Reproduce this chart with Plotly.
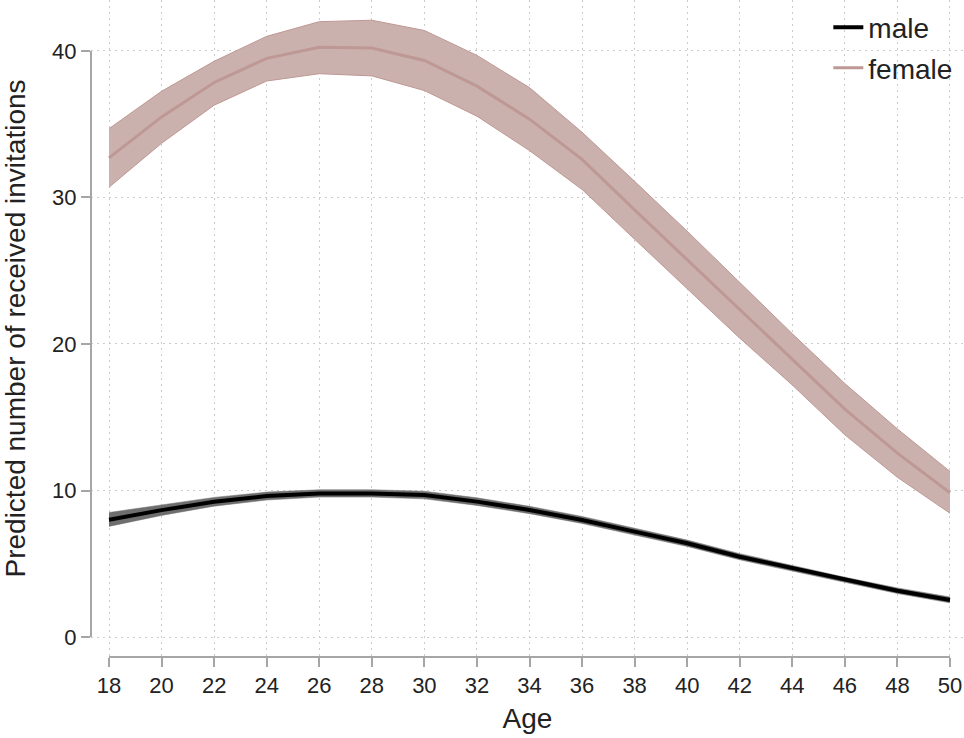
import plotly.graph_objects as go

# Predicted invitations by age, with confidence bands
ages = [18, 20, 22, 24, 26, 28, 30, 32, 34, 36, 38, 40, 42, 44, 46, 48, 50]

male_mean = [8.0, 8.66, 9.23, 9.62, 9.8, 9.8, 9.69, 9.24, 8.67, 7.99, 7.19, 6.4, 5.48, 4.69, 3.89, 3.16, 2.53]
male_lo = [7.55, 8.3, 8.93, 9.35, 9.55, 9.55, 9.43, 8.98, 8.42, 7.75, 6.96, 6.18, 5.27, 4.49, 3.7, 2.97, 2.33]
male_hi = [8.5, 9.02, 9.53, 9.89, 10.05, 10.05, 9.95, 9.5, 8.92, 8.23, 7.42, 6.62, 5.69, 4.89, 4.08, 3.35, 2.73]

female_mean = [32.7, 35.5, 37.85, 39.5, 40.25, 40.2, 39.35, 37.6, 35.35, 32.6, 29.15, 25.75, 22.3, 18.95, 15.55, 12.55, 9.85]
female_lo = [30.7, 33.7, 36.3, 37.95, 38.45, 38.3, 37.3, 35.55, 33.2, 30.55, 27.15, 23.8, 20.4, 17.2, 13.8, 10.9, 8.45]
female_hi = [34.7, 37.25, 39.3, 41.0, 42.0, 42.1, 41.4, 39.7, 37.5, 34.45, 31.1, 27.7, 24.2, 20.7, 17.3, 14.2, 11.3]

x_ticks = list(range(18, 51, 2))
y_ticks = [0, 10, 20, 30, 40]

FONT = "Arial, Liberation Sans, sans-serif"
AXIS_GRAY = "#a6a6a6"
GRID_GRAY = "#cccccc"
TEXT = "#222222"

female_fill = "rgb(203,177,173)"
female_line = "rgb(190,152,148)"
male_fill = "rgb(110,110,110)"

fig = go.Figure()

# female band + line
fig.add_trace(go.Scatter(x=ages, y=female_hi, mode="lines", line=dict(width=1, color=female_line),
                         showlegend=False, hoverinfo="skip"))
fig.add_trace(go.Scatter(x=ages, y=female_lo, mode="lines", line=dict(width=1, color=female_line),
                         fill="tonexty", fillcolor=female_fill, showlegend=False, hoverinfo="skip"))

# male band + line
fig.add_trace(go.Scatter(x=ages, y=male_hi, mode="lines", line=dict(width=0.5, color=male_fill),
                         showlegend=False, hoverinfo="skip"))
fig.add_trace(go.Scatter(x=ages, y=male_lo, mode="lines", line=dict(width=0.5, color=male_fill),
                         fill="tonexty", fillcolor=male_fill, showlegend=False, hoverinfo="skip"))

fig.add_trace(go.Scatter(x=ages, y=male_mean, mode="lines", name="male",
                         line=dict(width=4, color="black"), legendgroup="m"))
fig.add_trace(go.Scatter(x=ages, y=female_mean, mode="lines", name="female",
                         line=dict(width=3, color=female_line), legendgroup="f"))

# Stata-style axis lines spanning only the tick range
fig.add_shape(type="line", xref="x", yref="paper", x0=18, x1=50, y0=0, y1=0,
              line=dict(color=AXIS_GRAY, width=2), layer="above")
fig.add_shape(type="line", xref="paper", yref="y", x0=0, x1=0, y0=0, y1=40,
              line=dict(color=AXIS_GRAY, width=2), layer="above")

fig.update_layout(
    width=964, height=738,
    margin=dict(l=91, r=0, t=0, b=81),
    paper_bgcolor="white", plot_bgcolor="white",
    font=dict(family=FONT, size=22, color=TEXT),
    legend=dict(x=0.9935, y=0.996, xanchor="right", yanchor="top",
                font=dict(size=28, color=TEXT), bgcolor="rgba(0,0,0,0)",
                traceorder="grouped", tracegroupgap=1),
    showlegend=True,
)

fig.update_xaxes(
    range=[17.315, 50.533], tickvals=x_ticks, ticktext=[str(v) for v in x_ticks],
    showgrid=True, gridcolor=GRID_GRAY, griddash="2px,4px", gridwidth=1,
    zeroline=False, showline=False,
    ticks="outside", ticklen=9, tickwidth=2, tickcolor=AXIS_GRAY,
    tickfont=dict(size=22, color=TEXT),
    title=dict(text="Age", font=dict(size=28, color=TEXT), standoff=10),
    automargin=False,
)
fig.update_yaxes(
    range=[-1.365, 43.48], tickvals=y_ticks, ticktext=[str(v) for v in y_ticks],
    showgrid=True, gridcolor=GRID_GRAY, griddash="2px,4px", gridwidth=1,
    zeroline=False, showline=False,
    ticks="outside", ticklen=9, tickwidth=2, tickcolor=AXIS_GRAY,
    tickfont=dict(size=22, color=TEXT),
    title=dict(text="Predicted number of received invitations", font=dict(size=28, color=TEXT), standoff=21),
    automargin=False,
)

fig.write_html("out.html")
